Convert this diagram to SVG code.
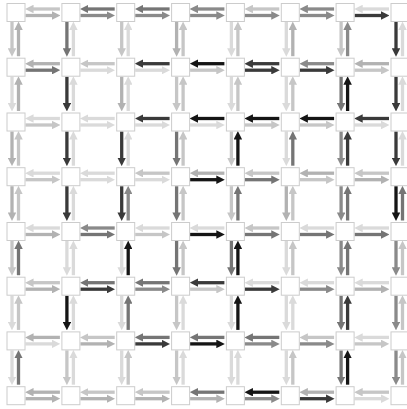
<svg xmlns="http://www.w3.org/2000/svg" width="407" height="409" viewBox="0 0 407 409">
<style>
.node rect{fill:#fff;stroke:#cccccc;stroke-width:1}
#edges path{fill:none;stroke-width:3.3}
.a{stroke:#dadada;marker-end:url(#ma)}
.b{stroke:#c6c6c6;marker-end:url(#mb)}
.c{stroke:#b2b2b2;marker-end:url(#mc)}
.d{stroke:#8a8a8a;marker-end:url(#md)}
.e{stroke:#757575;marker-end:url(#me)}
.f{stroke:#3a3a3a;marker-end:url(#mf)}
.g{stroke:#151515;marker-end:url(#mg)}
</style>
<defs>
<marker id="ma" markerUnits="userSpaceOnUse" viewBox="0 0 8 8" markerWidth="8.5" markerHeight="8.5" refX="1" refY="4" orient="auto"><path d="M0,0L8,4L0,8z" fill="#dadada"/></marker>
<marker id="mb" markerUnits="userSpaceOnUse" viewBox="0 0 8 8" markerWidth="8.5" markerHeight="8.5" refX="1" refY="4" orient="auto"><path d="M0,0L8,4L0,8z" fill="#c6c6c6"/></marker>
<marker id="mc" markerUnits="userSpaceOnUse" viewBox="0 0 8 8" markerWidth="8.5" markerHeight="8.5" refX="1" refY="4" orient="auto"><path d="M0,0L8,4L0,8z" fill="#b2b2b2"/></marker>
<marker id="md" markerUnits="userSpaceOnUse" viewBox="0 0 8 8" markerWidth="8.5" markerHeight="8.5" refX="1" refY="4" orient="auto"><path d="M0,0L8,4L0,8z" fill="#8a8a8a"/></marker>
<marker id="me" markerUnits="userSpaceOnUse" viewBox="0 0 8 8" markerWidth="8.5" markerHeight="8.5" refX="1" refY="4" orient="auto"><path d="M0,0L8,4L0,8z" fill="#757575"/></marker>
<marker id="mf" markerUnits="userSpaceOnUse" viewBox="0 0 8 8" markerWidth="8.5" markerHeight="8.5" refX="1" refY="4" orient="auto"><path d="M0,0L8,4L0,8z" fill="#3a3a3a"/></marker>
<marker id="mg" markerUnits="userSpaceOnUse" viewBox="0 0 8 8" markerWidth="8.5" markerHeight="8.5" refX="1" refY="4" orient="auto"><path d="M0,0L8,4L0,8z" fill="#151515"/></marker>
</defs>
<rect width="407" height="409" fill="#fff"/>
<g id="edges">
<!-- row 0 -->
<path class="b" d="M59.9 9H32.5"/><path class="c" d="M25.5 15.5H52.9"/>
<path class="e" d="M114.7 9H87.4"/><path class="d" d="M80.4 15.5H107.7"/>
<path class="e" d="M169.6 9H142.2"/><path class="d" d="M135.2 15.5H162.6"/>
<path class="d" d="M224.4 9H197.1"/><path class="d" d="M190.1 15.5H217.4"/>
<path class="b" d="M279.3 9H251.9"/><path class="d" d="M244.9 15.5H272.3"/>
<path class="d" d="M334.1 9H306.8"/><path class="d" d="M299.8 15.5H327.1"/>
<path class="a" d="M389 9H361.6"/><path class="f" d="M354.6 15.5H382"/>
<!-- row 1 -->
<path class="c" d="M59.9 63.7H32.5"/><path class="e" d="M25.5 70.2H52.9"/>
<path class="b" d="M114.7 63.7H87.4"/><path class="a" d="M80.4 70.2H107.7"/>
<path class="f" d="M169.6 63.7H142.2"/><path class="a" d="M135.2 70.2H162.6"/>
<path class="g" d="M224.4 63.7H197.1"/><path class="b" d="M190.1 70.2H217.4"/>
<path class="f" d="M279.3 63.7H251.9"/><path class="f" d="M244.9 70.2H272.3"/>
<path class="d" d="M334.1 63.7H306.8"/><path class="f" d="M299.8 70.2H327.1"/>
<path class="c" d="M389 63.7H361.6"/><path class="b" d="M354.6 70.2H382"/>
<!-- row 2 -->
<path class="a" d="M59.9 118.5H32.5"/><path class="b" d="M25.5 125H52.9"/>
<path class="a" d="M114.7 118.5H87.4"/><path class="a" d="M80.4 125H107.7"/>
<path class="f" d="M169.6 118.5H142.2"/><path class="a" d="M135.2 125H162.6"/>
<path class="g" d="M224.4 118.5H197.1"/><path class="a" d="M190.1 125H217.4"/>
<path class="g" d="M279.3 118.5H251.9"/><path class="b" d="M244.9 125H272.3"/>
<path class="g" d="M334.1 118.5H306.8"/><path class="b" d="M299.8 125H327.1"/>
<path class="f" d="M389 118.5H361.6"/><path class="a" d="M354.6 125H382"/>
<!-- row 3 -->
<path class="a" d="M59.9 173.2H32.5"/><path class="b" d="M25.5 179.7H52.9"/>
<path class="a" d="M114.7 173.2H87.4"/><path class="a" d="M80.4 179.7H107.7"/>
<path class="b" d="M169.6 173.2H142.2"/><path class="a" d="M135.2 179.7H162.6"/>
<path class="c" d="M224.4 173.2H197.1"/><path class="g" d="M190.1 179.7H217.4"/>
<path class="b" d="M279.3 173.2H251.9"/><path class="e" d="M244.9 179.7H272.3"/>
<path class="c" d="M334.1 173.2H306.8"/><path class="b" d="M299.8 179.7H327.1"/>
<path class="b" d="M389 173.2H361.6"/><path class="c" d="M354.6 179.7H382"/>
<!-- row 4 -->
<path class="a" d="M59.9 228H32.5"/><path class="c" d="M25.5 234.5H52.9"/>
<path class="d" d="M114.7 228H87.4"/><path class="e" d="M80.4 234.5H107.7"/>
<path class="a" d="M169.6 228H142.2"/><path class="b" d="M135.2 234.5H162.6"/>
<path class="a" d="M224.4 228H197.1"/><path class="g" d="M190.1 234.5H217.4"/>
<path class="b" d="M279.3 228H251.9"/><path class="e" d="M244.9 234.5H272.3"/>
<path class="a" d="M334.1 228H306.8"/><path class="e" d="M299.8 234.5H327.1"/>
<path class="a" d="M389 228H361.6"/><path class="e" d="M354.6 234.5H382"/>
<!-- row 5 -->
<path class="b" d="M59.9 282.7H32.5"/><path class="c" d="M25.5 289.2H52.9"/>
<path class="e" d="M114.7 282.7H87.4"/><path class="f" d="M80.4 289.2H107.7"/>
<path class="e" d="M169.6 282.7H142.2"/><path class="d" d="M135.2 289.2H162.6"/>
<path class="f" d="M224.4 282.7H197.1"/><path class="b" d="M190.1 289.2H217.4"/>
<path class="a" d="M279.3 282.7H251.9"/><path class="f" d="M244.9 289.2H272.3"/>
<path class="a" d="M334.1 282.7H306.8"/><path class="d" d="M299.8 289.2H327.1"/>
<path class="a" d="M389 282.7H361.6"/><path class="c" d="M354.6 289.2H382"/>
<!-- row 6 -->
<path class="c" d="M59.9 337.4H32.5"/><path class="a" d="M25.5 343.9H52.9"/>
<path class="b" d="M114.7 337.4H87.4"/><path class="c" d="M80.4 343.9H107.7"/>
<path class="e" d="M169.6 337.4H142.2"/><path class="f" d="M135.2 343.9H162.6"/>
<path class="e" d="M224.4 337.4H197.1"/><path class="g" d="M190.1 343.9H217.4"/>
<path class="e" d="M279.3 337.4H251.9"/><path class="d" d="M244.9 343.9H272.3"/>
<path class="b" d="M334.1 337.4H306.8"/><path class="d" d="M299.8 343.9H327.1"/>
<path class="a" d="M389 337.4H361.6"/><path class="b" d="M354.6 343.9H382"/>
<!-- row 7 -->
<path class="c" d="M59.9 392.2H32.5"/><path class="c" d="M25.5 398.7H52.9"/>
<path class="b" d="M114.7 392.2H87.4"/><path class="c" d="M80.4 398.7H107.7"/>
<path class="b" d="M169.6 392.2H142.2"/><path class="c" d="M135.2 398.7H162.6"/>
<path class="e" d="M224.4 392.2H197.1"/><path class="c" d="M190.1 398.7H217.4"/>
<path class="g" d="M279.3 392.2H251.9"/><path class="d" d="M244.9 398.7H272.3"/>
<path class="c" d="M334.1 392.2H306.8"/><path class="f" d="M299.8 398.7H327.1"/>
<path class="b" d="M389 392.2H361.6"/><path class="a" d="M354.6 398.7H382"/>
<!-- column 0 -->
<path class="b" d="M12 22V49.2"/><path class="c" d="M18.5 56.2V29"/>
<path class="a" d="M12 76.7V104"/><path class="c" d="M18.5 111V83.7"/>
<path class="c" d="M12 131.5V158.7"/><path class="b" d="M18.5 165.7V138.5"/>
<path class="c" d="M12 186.2V213.5"/><path class="b" d="M18.5 220.5V193.2"/>
<path class="b" d="M12 241V268.2"/><path class="e" d="M18.5 275.2V248"/>
<path class="a" d="M12 295.7V322.9"/><path class="b" d="M18.5 329.9V302.7"/>
<path class="a" d="M12 350.4V377.7"/><path class="e" d="M18.5 384.7V357.4"/>
<!-- column 1 -->
<path class="e" d="M66.9 22V49.2"/><path class="a" d="M73.4 56.2V29"/>
<path class="f" d="M66.9 76.7V104"/><path class="a" d="M73.4 111V83.7"/>
<path class="f" d="M66.9 131.5V158.7"/><path class="a" d="M73.4 165.7V138.5"/>
<path class="f" d="M66.9 186.2V213.5"/><path class="a" d="M73.4 220.5V193.2"/>
<path class="a" d="M66.9 241V268.2"/><path class="a" d="M73.4 275.2V248"/>
<path class="g" d="M66.9 295.7V322.9"/><path class="a" d="M73.4 329.9V302.7"/>
<path class="b" d="M66.9 350.4V377.7"/><path class="a" d="M73.4 384.7V357.4"/>
<!-- column 2 -->
<path class="b" d="M121.7 22V49.2"/><path class="a" d="M128.2 56.2V29"/>
<path class="c" d="M121.7 76.7V104"/><path class="a" d="M128.2 111V83.7"/>
<path class="f" d="M121.7 131.5V158.7"/><path class="a" d="M128.2 165.7V138.5"/>
<path class="f" d="M121.7 186.2V213.5"/><path class="d" d="M128.2 220.5V193.2"/>
<path class="a" d="M121.7 241V268.2"/><path class="g" d="M128.2 275.2V248"/>
<path class="a" d="M121.7 295.7V322.9"/><path class="e" d="M128.2 329.9V302.7"/>
<path class="a" d="M121.7 350.4V377.7"/><path class="b" d="M128.2 384.7V357.4"/>
<!-- column 3 -->
<path class="c" d="M176.6 22V49.2"/><path class="b" d="M183.1 56.2V29"/>
<path class="b" d="M176.6 76.7V104"/><path class="b" d="M183.1 111V83.7"/>
<path class="e" d="M176.6 131.5V158.7"/><path class="b" d="M183.1 165.7V138.5"/>
<path class="e" d="M176.6 186.2V213.5"/><path class="b" d="M183.1 220.5V193.2"/>
<path class="e" d="M176.6 241V268.2"/><path class="b" d="M183.1 275.2V248"/>
<path class="b" d="M176.6 295.7V322.9"/><path class="a" d="M183.1 329.9V302.7"/>
<path class="b" d="M176.6 350.4V377.7"/><path class="a" d="M183.1 384.7V357.4"/>
<!-- column 4 -->
<path class="a" d="M231.4 22V49.2"/><path class="b" d="M237.9 56.2V29"/>
<path class="a" d="M231.4 76.7V104"/><path class="b" d="M237.9 111V83.7"/>
<path class="b" d="M231.4 131.5V158.7"/><path class="g" d="M237.9 165.7V138.5"/>
<path class="b" d="M231.4 186.2V213.5"/><path class="e" d="M237.9 220.5V193.2"/>
<path class="e" d="M231.4 241V268.2"/><path class="g" d="M237.9 275.2V248"/>
<path class="a" d="M231.4 295.7V322.9"/><path class="g" d="M237.9 329.9V302.7"/>
<path class="a" d="M231.4 350.4V377.7"/><path class="a" d="M237.9 384.7V357.4"/>
<!-- column 5 -->
<path class="a" d="M286.3 22V49.2"/><path class="c" d="M292.8 56.2V29"/>
<path class="a" d="M286.3 76.7V104"/><path class="b" d="M292.8 111V83.7"/>
<path class="a" d="M286.3 131.5V158.7"/><path class="e" d="M292.8 165.7V138.5"/>
<path class="c" d="M286.3 186.2V213.5"/><path class="b" d="M292.8 220.5V193.2"/>
<path class="a" d="M286.3 241V268.2"/><path class="b" d="M292.8 275.2V248"/>
<path class="a" d="M286.3 295.7V322.9"/><path class="a" d="M292.8 329.9V302.7"/>
<path class="a" d="M286.3 350.4V377.7"/><path class="b" d="M292.8 384.7V357.4"/>
<!-- column 6 -->
<path class="b" d="M341.1 22V49.2"/><path class="d" d="M347.6 56.2V29"/>
<path class="e" d="M341.1 76.7V104"/><path class="g" d="M347.6 111V83.7"/>
<path class="d" d="M341.1 131.5V158.7"/><path class="f" d="M347.6 165.7V138.5"/>
<path class="d" d="M341.1 186.2V213.5"/><path class="e" d="M347.6 220.5V193.2"/>
<path class="d" d="M341.1 241V268.2"/><path class="e" d="M347.6 275.2V248"/>
<path class="e" d="M341.1 295.7V322.9"/><path class="f" d="M347.6 329.9V302.7"/>
<path class="e" d="M341.1 350.4V377.7"/><path class="g" d="M347.6 384.7V357.4"/>
<!-- column 7 -->
<path class="f" d="M396 22V49.2"/><path class="a" d="M402.5 56.2V29"/>
<path class="f" d="M396 76.7V104"/><path class="a" d="M402.5 111V83.7"/>
<path class="f" d="M396 131.5V158.7"/><path class="a" d="M402.5 165.7V138.5"/>
<path class="g" d="M396 186.2V213.5"/><path class="e" d="M402.5 220.5V193.2"/>
<path class="d" d="M396 241V268.2"/><path class="b" d="M402.5 275.2V248"/>
<path class="d" d="M396 295.7V322.9"/><path class="b" d="M402.5 329.9V302.7"/>
<path class="d" d="M396 350.4V377.7"/><path class="b" d="M402.5 384.7V357.4"/>
</g>
<g id="nodes">
<g id="n0-0" class="node"><rect x="7" y="3.5" width="18" height="18"/></g>
<g id="n0-1" class="node"><rect x="61.9" y="3.5" width="18" height="18"/></g>
<g id="n0-2" class="node"><rect x="116.7" y="3.5" width="18" height="18"/></g>
<g id="n0-3" class="node"><rect x="171.6" y="3.5" width="18" height="18"/></g>
<g id="n0-4" class="node"><rect x="226.4" y="3.5" width="18" height="18"/></g>
<g id="n0-5" class="node"><rect x="281.3" y="3.5" width="18" height="18"/></g>
<g id="n0-6" class="node"><rect x="336.1" y="3.5" width="18" height="18"/></g>
<g id="n0-7" class="node"><rect x="391" y="3.5" width="18" height="18"/></g>
<g id="n1-0" class="node"><rect x="7" y="58.2" width="18" height="18"/></g>
<g id="n1-1" class="node"><rect x="61.9" y="58.2" width="18" height="18"/></g>
<g id="n1-2" class="node"><rect x="116.7" y="58.2" width="18" height="18"/></g>
<g id="n1-3" class="node"><rect x="171.6" y="58.2" width="18" height="18"/></g>
<g id="n1-4" class="node"><rect x="226.4" y="58.2" width="18" height="18"/></g>
<g id="n1-5" class="node"><rect x="281.3" y="58.2" width="18" height="18"/></g>
<g id="n1-6" class="node"><rect x="336.1" y="58.2" width="18" height="18"/></g>
<g id="n1-7" class="node"><rect x="391" y="58.2" width="18" height="18"/></g>
<g id="n2-0" class="node"><rect x="7" y="113" width="18" height="18"/></g>
<g id="n2-1" class="node"><rect x="61.9" y="113" width="18" height="18"/></g>
<g id="n2-2" class="node"><rect x="116.7" y="113" width="18" height="18"/></g>
<g id="n2-3" class="node"><rect x="171.6" y="113" width="18" height="18"/></g>
<g id="n2-4" class="node"><rect x="226.4" y="113" width="18" height="18"/></g>
<g id="n2-5" class="node"><rect x="281.3" y="113" width="18" height="18"/></g>
<g id="n2-6" class="node"><rect x="336.1" y="113" width="18" height="18"/></g>
<g id="n2-7" class="node"><rect x="391" y="113" width="18" height="18"/></g>
<g id="n3-0" class="node"><rect x="7" y="167.7" width="18" height="18"/></g>
<g id="n3-1" class="node"><rect x="61.9" y="167.7" width="18" height="18"/></g>
<g id="n3-2" class="node"><rect x="116.7" y="167.7" width="18" height="18"/></g>
<g id="n3-3" class="node"><rect x="171.6" y="167.7" width="18" height="18"/></g>
<g id="n3-4" class="node"><rect x="226.4" y="167.7" width="18" height="18"/></g>
<g id="n3-5" class="node"><rect x="281.3" y="167.7" width="18" height="18"/></g>
<g id="n3-6" class="node"><rect x="336.1" y="167.7" width="18" height="18"/></g>
<g id="n3-7" class="node"><rect x="391" y="167.7" width="18" height="18"/></g>
<g id="n4-0" class="node"><rect x="7" y="222.5" width="18" height="18"/></g>
<g id="n4-1" class="node"><rect x="61.9" y="222.5" width="18" height="18"/></g>
<g id="n4-2" class="node"><rect x="116.7" y="222.5" width="18" height="18"/></g>
<g id="n4-3" class="node"><rect x="171.6" y="222.5" width="18" height="18"/></g>
<g id="n4-4" class="node"><rect x="226.4" y="222.5" width="18" height="18"/></g>
<g id="n4-5" class="node"><rect x="281.3" y="222.5" width="18" height="18"/></g>
<g id="n4-6" class="node"><rect x="336.1" y="222.5" width="18" height="18"/></g>
<g id="n4-7" class="node"><rect x="391" y="222.5" width="18" height="18"/></g>
<g id="n5-0" class="node"><rect x="7" y="277.2" width="18" height="18"/></g>
<g id="n5-1" class="node"><rect x="61.9" y="277.2" width="18" height="18"/></g>
<g id="n5-2" class="node"><rect x="116.7" y="277.2" width="18" height="18"/></g>
<g id="n5-3" class="node"><rect x="171.6" y="277.2" width="18" height="18"/></g>
<g id="n5-4" class="node"><rect x="226.4" y="277.2" width="18" height="18"/></g>
<g id="n5-5" class="node"><rect x="281.3" y="277.2" width="18" height="18"/></g>
<g id="n5-6" class="node"><rect x="336.1" y="277.2" width="18" height="18"/></g>
<g id="n5-7" class="node"><rect x="391" y="277.2" width="18" height="18"/></g>
<g id="n6-0" class="node"><rect x="7" y="331.9" width="18" height="18"/></g>
<g id="n6-1" class="node"><rect x="61.9" y="331.9" width="18" height="18"/></g>
<g id="n6-2" class="node"><rect x="116.7" y="331.9" width="18" height="18"/></g>
<g id="n6-3" class="node"><rect x="171.6" y="331.9" width="18" height="18"/></g>
<g id="n6-4" class="node"><rect x="226.4" y="331.9" width="18" height="18"/></g>
<g id="n6-5" class="node"><rect x="281.3" y="331.9" width="18" height="18"/></g>
<g id="n6-6" class="node"><rect x="336.1" y="331.9" width="18" height="18"/></g>
<g id="n6-7" class="node"><rect x="391" y="331.9" width="18" height="18"/></g>
<g id="n7-0" class="node"><rect x="7" y="386.7" width="18" height="18"/></g>
<g id="n7-1" class="node"><rect x="61.9" y="386.7" width="18" height="18"/></g>
<g id="n7-2" class="node"><rect x="116.7" y="386.7" width="18" height="18"/></g>
<g id="n7-3" class="node"><rect x="171.6" y="386.7" width="18" height="18"/></g>
<g id="n7-4" class="node"><rect x="226.4" y="386.7" width="18" height="18"/></g>
<g id="n7-5" class="node"><rect x="281.3" y="386.7" width="18" height="18"/></g>
<g id="n7-6" class="node"><rect x="336.1" y="386.7" width="18" height="18"/></g>
<g id="n7-7" class="node"><rect x="391" y="386.7" width="18" height="18"/></g>
</g>
</svg>
